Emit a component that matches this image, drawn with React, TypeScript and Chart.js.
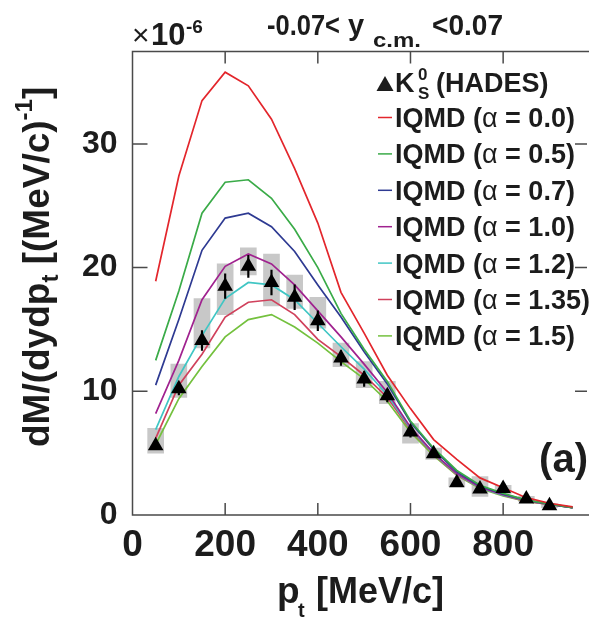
import React, { useEffect, useRef } from 'react';
import { Chart, registerables } from 'chart.js';

Chart.register(...registerables);

// ---------- data ----------
const ptModel = [50, 100, 150, 200, 250, 300, 350, 400, 450, 500, 550, 600, 650, 700, 750, 800, 850, 900, 950];
const iqmdA00 = [18.9, 27.4, 33.5, 35.8, 34.7, 32.0, 28.0, 23.6, 18.0, 14.7, 11.3, 8.6, 6.1, 4.5, 3.0, 2.2, 1.4, 0.95, 0.65];
const iqmdA05 = [12.5, 18.1, 24.4, 26.9, 27.1, 25.6, 23.1, 20.0, 16.3, 13.4, 10.8, 7.6, 5.4, 3.6, 2.4, 1.75, 1.2, 0.9, 0.6];
const iqmdA07 = [10.5, 15.8, 21.4, 24.0, 24.4, 23.3, 21.3, 18.6, 16.0, 13.2, 10.6, 7.5, 5.3, 3.5, 2.35, 1.7, 1.2, 0.9, 0.6];
const iqmdA10 = [8.2, 12.5, 17.4, 20.1, 21.1, 20.3, 18.6, 16.5, 14.4, 12.2, 9.9, 7.1, 5.0, 3.35, 2.25, 1.65, 1.15, 0.85, 0.6];
const iqmdA12 = [6.9, 11.2, 14.5, 17.5, 18.8, 18.6, 17.4, 15.5, 13.6, 11.8, 9.7, 7.0, 4.95, 3.3, 2.2, 1.6, 1.15, 0.85, 0.6];
const iqmdA135 = [6.2, 10.5, 13.0, 16.0, 17.2, 17.4, 16.2, 14.2, 12.8, 11.3, 9.5, 6.9, 4.9, 3.25, 2.2, 1.6, 1.1, 0.85, 0.6];
const iqmdA15 = [5.7, 9.4, 12.0, 14.4, 15.8, 16.2, 15.2, 13.9, 12.4, 11.0, 9.2, 6.7, 4.8, 3.2, 2.15, 1.55, 1.1, 0.85, 0.6];

const ptData = [50, 100, 150, 200, 250, 300, 350, 400, 450, 500, 550, 600, 650, 700, 750, 800, 850, 900];
const hadesYield = [5.6, 10.2, 14.1, 18.5, 20.1, 18.8, 17.6, 15.7, 12.7, 11.0, 9.65, 6.7, 4.95, 2.6, 2.1, 2.15, 1.3, 0.75];
const statErr = [0.3, 0.5, 0.8, 1.0, 0.9, 1.0, 1.0, 0.8, 0.6, 0.6, 0.5, 0.4, 0.3, 0.25, 0.25, 0.3, 0.2, 0.15];
const sysLow = [5.0, 9.5, 13.5, 16.2, 19.4, 16.9, 16.7, 15.1, 12.0, 10.3, 9.0, 5.8, 4.5, 2.3, 1.5, 1.7, 1.1, 0.6];
const sysHigh = [7.0, 12.2, 17.5, 20.3, 21.6, 21.1, 19.4, 17.6, 13.9, 12.4, 10.8, 7.4, 5.4, 3.0, 3.1, 2.4, 1.5, 0.9];

const alphaLabels = ['0.0', '0.5', '0.7', '1.0', '1.2', '1.35', '1.5'];
const modelSeries = [iqmdA00, iqmdA05, iqmdA07, iqmdA10, iqmdA12, iqmdA135, iqmdA15];
const seriesColors = ['#e3262c', '#3aab48', '#2e3a92', '#a0228f', '#40c6c4', '#d0415c', '#74c13e'];

const xTickValues = [0, 200, 400, 600, 800];
const yTickValues = [0, 10, 20, 30];
const xMax = 981;
const yMax = 37.47;

const SANS = "'Liberation Sans', Arial, Helvetica, sans-serif";
const TXT = '#1c1c1c';

type Seg = { t: string; font: string; dy?: number };

function drawSegs(ctx: CanvasRenderingContext2D, segs: Seg[], x: number, y: number) {
  let cx = x;
  for (const s of segs) {
    ctx.font = s.font;
    ctx.fillText(s.t, cx, y + (s.dy || 0));
    cx += ctx.measureText(s.t).width;
  }
  return cx;
}

// draw text starting at x, squeezed/stretched horizontally to span width w
function fitText(ctx: CanvasRenderingContext2D, t: string, font: string, x: number, y: number, w: number) {
  ctx.font = font;
  const m = ctx.measureText(t).width;
  ctx.save();
  ctx.translate(x, y);
  ctx.scale(w / m, 1);
  ctx.fillText(t, 0, 0);
  ctx.restore();
}

const decorPlugin = {
  id: 'decor',
  afterDatasetsDraw(chart: any) {
    const { ctx, chartArea: a, scales } = chart;
    const xs = scales.x;
    const ys = scales.y;
    ctx.save();
    // frame
    ctx.strokeStyle = '#4a4a4a';
    ctx.lineWidth = 1.5;
    ctx.beginPath();
    ctx.moveTo(a.right + 2, a.top);
    ctx.lineTo(a.left, a.top);
    ctx.lineTo(a.left, a.bottom);
    ctx.lineTo(a.right + 2, a.bottom);
    for (const v of xTickValues) {
      if (v === 0) continue;
      const px = xs.getPixelForValue(v);
      ctx.moveTo(px, a.bottom);
      ctx.lineTo(px, a.bottom - 12);
      ctx.moveTo(px, a.top);
      ctx.lineTo(px, a.top + 12);
    }
    for (const v of yTickValues) {
      if (v === 0) continue;
      const py = ys.getPixelForValue(v);
      ctx.moveTo(a.left, py);
      ctx.lineTo(a.left + 15, py);
      ctx.moveTo(a.right, py);
      ctx.lineTo(a.right - 12, py);
    }
    ctx.stroke();

    ctx.fillStyle = TXT;
    ctx.textBaseline = 'alphabetic';
    ctx.textAlign = 'left';

    // x10^-6
    ctx.font = `normal 30px ${SANS}`;
    ctx.fillText('\u00d7', 132, 45);
    ctx.font = `bold 31px ${SANS}`;
    ctx.fillText('10', 151, 45);
    ctx.font = `bold 19px ${SANS}`;
    ctx.fillText('-6', 186, 33);

    // title
    fitText(ctx, '-0.07<', `bold 29px ${SANS}`, 267, 35, 73);
    ctx.font = `bold 29px ${SANS}`;
    ctx.fillText('y', 348, 35);
    fitText(ctx, 'c.m.', `bold 20px ${SANS}`, 373, 47, 48);
    fitText(ctx, '<0.07', `bold 29px ${SANS}`, 432, 35, 71);

    // legend header
    ctx.beginPath();
    ctx.moveTo(385, 76);
    ctx.lineTo(393.5, 91);
    ctx.lineTo(376.5, 91);
    ctx.closePath();
    ctx.fill();
    ctx.font = `bold 27px ${SANS}`;
    ctx.fillText('K', 395, 92);
    ctx.font = `bold 17px ${SANS}`;
    ctx.fillText('0', 418, 80);
    ctx.fillText('S', 418, 99);
    ctx.font = `bold 27px ${SANS}`;
    ctx.fillText('(HADES)', 436, 92);

    // legend rows
    for (let i = 0; i < alphaLabels.length; i++) {
      const base = 127 + i * 36.4;
      ctx.strokeStyle = seriesColors[i];
      ctx.lineWidth = 1.5;
      ctx.beginPath();
      ctx.moveTo(378, base - 9.5);
      ctx.lineTo(392, base - 9.5);
      ctx.stroke();
      drawSegs(ctx, [
        { t: 'IQMD (', font: `bold 27px ${SANS}` },
        { t: '\u03b1', font: `normal 27px ${SANS}` },
        { t: ' = ' + alphaLabels[i] + ')', font: `bold 27px ${SANS}` },
      ], 395, base);
    }

    // (a)
    ctx.font = `bold 40px ${SANS}`;
    ctx.textAlign = 'right';
    ctx.fillText('(a)', 588, 472);
    ctx.textAlign = 'left';

    // x title
    ctx.font = `bold 37px ${SANS}`;
    ctx.fillText('p', 277, 603);
    ctx.font = `bold 20px ${SANS}`;
    ctx.fillText('t', 298, 617);
    ctx.font = `bold 36px ${SANS}`;
    ctx.fillText('[MeV/c]', 316, 603);

    // y title
    ctx.save();
    ctx.translate(49, 447);
    ctx.rotate(-Math.PI / 2);
    drawSegs(ctx, [
      { t: 'dM/(dydp', font: `bold 37px ${SANS}` },
      { t: 't', font: `bold 24px ${SANS}`, dy: 9 },
      { t: ' [(MeV/c)', font: `bold 37px ${SANS}` },
      { t: '-1', font: `bold 24px ${SANS}`, dy: -17 },
      { t: ']', font: `bold 37px ${SANS}` },
    ], 0, 0);
    ctx.restore();

    ctx.restore();
  },
};

export default function App() {
  const ref = useRef<HTMLCanvasElement | null>(null);

  useEffect(() => {
    if (!ref.current) return;
    Chart.defaults.font.family = SANS;

    const lineSets = modelSeries.map((arr, i) => ({
      type: 'line' as const,
      label: `IQMD (\u03b1 = ${alphaLabels[i]})`,
      data: ptModel.map((x, j) => ({ x, y: arr[j] })),
      borderColor: seriesColors[i],
      backgroundColor: seriesColors[i],
      borderWidth: 1.7,
      pointRadius: 0,
      tension: 0,
      fill: false,
      order: 5,
    }));

    const chart = new Chart(ref.current, {
      type: 'line',
      data: {
        datasets: [
          {
            type: 'bar',
            label: 'sys',
            data: ptData.map((x, j) => ({ x, y: [sysLow[j], sysHigh[j]] })) as any,
            backgroundColor: '#c8c8c8',
            borderWidth: 0,
            barThickness: 16,
            grouped: false,
            order: 10,
          } as any,
          ...lineSets,
          {
            type: 'bar',
            label: 'stat',
            data: ptData.map((x, j) => ({ x, y: [hadesYield[j] - statErr[j], hadesYield[j] + statErr[j]] })) as any,
            backgroundColor: '#000000',
            borderWidth: 0,
            barThickness: 1.5,
            grouped: false,
            order: 2,
          } as any,
          {
            type: 'line',
            label: 'K0S (HADES)',
            data: ptData.map((x, j) => ({ x, y: hadesYield[j] })),
            showLine: false,
            pointStyle: 'triangle',
            pointRadius: 9,
            pointBackgroundColor: '#000000',
            pointBorderColor: '#000000',
            pointBorderWidth: 0,
            order: 1,
          },
        ],
      },
      options: {
        animation: false,
        responsive: false,
        devicePixelRatio: 1,
        layout: { padding: { top: 51.5, right: 0, left: 0, bottom: 0 } },
        plugins: {
          legend: { display: false },
          tooltip: { enabled: false },
          title: { display: false },
        },
        scales: {
          x: {
            type: 'linear',
            min: 0,
            max: xMax,
            offset: false,
            grid: { display: false, drawTicks: false },
            border: { display: false },
            afterBuildTicks: (s: any) => { s.ticks = xTickValues.map((v) => ({ value: v })); },
            ticks: {
              autoSkip: false,
              padding: 9,
              color: TXT,
              font: { size: 37, weight: 'bold', family: SANS },
              maxRotation: 0,
              minRotation: 0,
              callback: (v: any) => String(v),
            },
            afterFit: (s: any) => { s.height = 103; },
          },
          y: {
            type: 'linear',
            min: 0,
            max: yMax,
            grid: { display: false, drawTicks: false },
            border: { display: false },
            afterBuildTicks: (s: any) => { s.ticks = yTickValues.map((v) => ({ value: v })); },
            ticks: {
              autoSkip: false,
              padding: 15,
              color: TXT,
              font: { size: 32, weight: 'bold', family: SANS },
              callback: (v: any) => String(v),
            },
            afterFit: (s: any) => { s.width = 132.5; },
          },
        },
      } as any,
      plugins: [decorPlugin],
    });
    return () => chart.destroy();
  }, []);

  return (
    <div style={{ position: 'absolute', left: 0, top: 0, width: 596, height: 618, background: '#fff' }}>
      <canvas ref={ref} width={596} height={618} style={{ display: 'block', width: 596, height: 618 }} />
    </div>
  );
}
